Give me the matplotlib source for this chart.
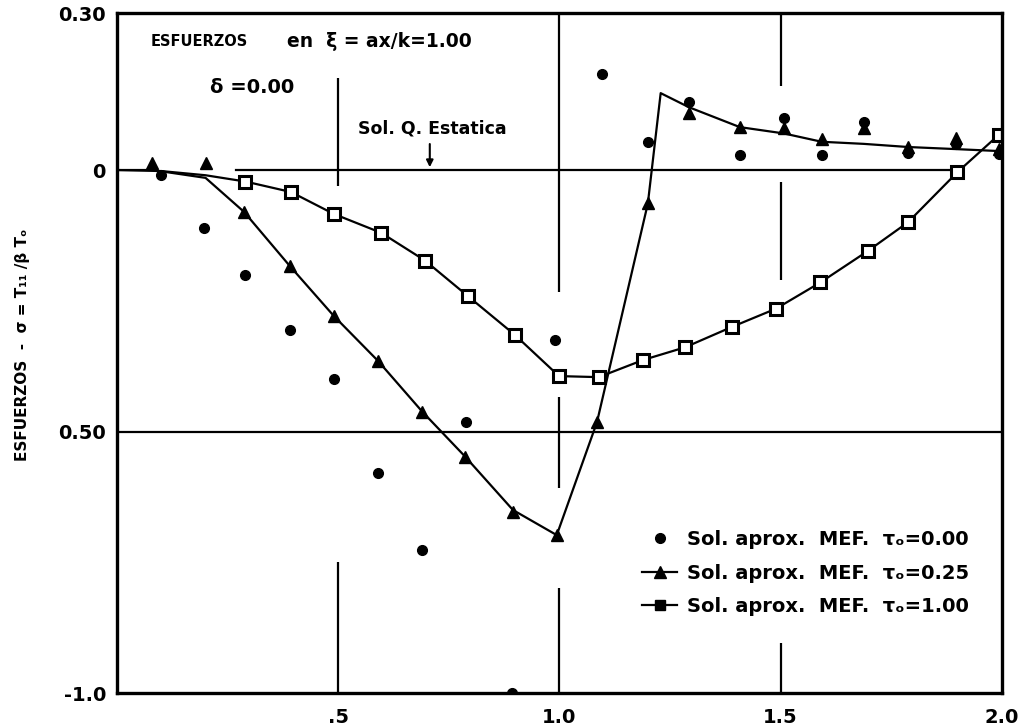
import matplotlib
matplotlib.use("Agg")
import matplotlib.pyplot as plt
from matplotlib.lines import Line2D

plt.rcParams['font.family'] = ['DejaVu Sans']
plt.rcParams['font.weight'] = 'bold'

# tau_o = 0.00 (points only)
x_t000 = [0.10, 0.197, 0.29, 0.39, 0.49, 0.59, 0.69, 0.789, 0.893, 0.99,
          1.096, 1.20, 1.293, 1.408, 1.507, 1.593, 1.688, 1.788, 1.896, 1.993]
y_t000 = [-0.01, -0.11, -0.20, -0.305, -0.40, -0.58, -0.726, -0.482, -1.0, -0.325,
          0.184, 0.054, 0.13, 0.029, 0.099, 0.029, 0.092, 0.032, 0.05, 0.03]

# tau_o = 0.25
x_t025 = [0.08, 0.20, 0.287, 0.39, 0.49, 0.59, 0.69, 0.787, 0.895, 0.994,
          1.085, 1.20, 1.293, 1.408, 1.507, 1.593, 1.688, 1.788, 1.896, 1.993]
y_t025 = [0.013, 0.013, -0.08, -0.183, -0.279, -0.365, -0.462, -0.548, -0.654, -0.698,
          -0.482, -0.064, 0.109, 0.082, 0.080, 0.059, 0.080, 0.044, 0.061, 0.040]
line_x_t025 = [0.0, 0.08, 0.2, 0.287, 0.39, 0.49, 0.59, 0.69, 0.787, 0.895, 0.994,
               1.085, 1.2, 1.229, 1.293, 1.408, 1.507, 1.593, 1.688, 1.788, 1.896, 2.0]
line_y_t025 = [0.0, 0.0, -0.015, -0.08, -0.183, -0.279, -0.365, -0.462, -0.548, -0.65, -0.698,
               -0.482, -0.064, 0.147, 0.12, 0.082, 0.07, 0.054, 0.05, 0.044, 0.04, 0.036]

# tau_o = 1.00
x_t100 = [0.29, 0.393, 0.49, 0.597, 0.696, 0.793, 0.899, 0.999, 1.089, 1.19,
          1.284, 1.39, 1.49, 1.59, 1.697, 1.788, 1.90, 1.993]
y_t100 = [-0.022, -0.042, -0.084, -0.12, -0.173, -0.241, -0.315, -0.394, -0.396, -0.363,
          -0.339, -0.30, -0.265, -0.215, -0.155, -0.10, -0.004, 0.067]
line_x_t100 = [0.0, 0.1, 0.2] + x_t100
line_y_t100 = [0.0, -0.002, -0.01] + y_t100

x_ticks = [0.5, 1.0, 1.5, 2.0]
x_ticklabels = ['.5', '1.0', '1.5', '2.0']
y_ticks = [0.30, 0.0, -0.5, -1.0]
y_ticklabels = ['0.30', '0', '0.50', '-1.0']

fig = plt.figure(figsize=(10.18, 7.28), dpi=100)
ax = fig.add_axes([0.115, 0.048, 0.869, 0.934])
ax.set_xlim(0, 2.0)
ax.set_ylim(-1.0, 0.30)

# broken grid lines like the original drawing
ax.plot([0.27, 1.88], [0, 0], color='black', lw=1.6)
ax.axhline(-0.5, color='black', lw=1.6)
ax.vlines(0.5, -0.03, 0.176, color='black', lw=1.6)
ax.vlines(0.5, -1.0, -0.75, color='black', lw=1.6)
ax.vlines(1.0, -0.233, 0.30, color='black', lw=1.6)
ax.vlines(1.0, -0.608, -0.434, color='black', lw=1.6)
ax.vlines(1.0, -1.0, -0.80, color='black', lw=1.6)
ax.vlines(1.5, 0.160, 0.30, color='black', lw=1.6)
ax.vlines(1.5, -0.211, -0.023, color='black', lw=1.6)
ax.vlines(1.5, -1.0, -0.905, color='black', lw=1.6)

ax.plot(line_x_t025, line_y_t025, color='black', lw=1.6)
ax.plot(line_x_t100, line_y_t100, color='black', lw=1.6)
ax.plot(x_t000, y_t000, 'o', color='black', ms=7, clip_on=True)
ax.plot(x_t025, y_t025, '^', color='black', ms=8)
ax.plot(x_t100, y_t100, 's', mfc='white', mec='black', mew=2.2, ms=8)

for s in ax.spines.values():
    s.set_linewidth(2.4)

ax.set_xticks(x_ticks)
ax.set_xticklabels(x_ticklabels, fontsize=14, fontweight='bold')
ax.set_yticks(y_ticks)
ax.set_yticklabels(y_ticklabels, fontsize=14, fontweight='bold')
ax.tick_params(length=0, pad=8)
ax.tick_params(axis='x', pad=11)

ax.text(0.075, 0.245, 'ESFUERZOS', fontsize=10.5, fontweight='bold', va='center')
ax.text(0.385, 0.245, 'en  ξ = ax/k=1.00', fontsize=13.5, fontweight='bold', va='center')
ax.text(0.21, 0.157, 'δ =0.00', fontsize=14, va='center')
ax.text(0.545, 0.08, 'Sol. Q. Estatica', fontsize=12.5, va='center')
ax.annotate('', xy=(0.707, 0.0), xytext=(0.707, 0.055),
            arrowprops=dict(arrowstyle='-|>', color='black', lw=1.5))

fig.text(0.022, 0.526, 'ESFUERZOS  -  σ = T₁₁ /β Tₒ', rotation=90, fontsize=11,
         fontweight='bold', ha='center', va='center')

handles = [
    Line2D([], [], ls='none', marker='o', color='black', ms=7),
    Line2D([], [], color='black', lw=1.6, marker='^', ms=8),
    Line2D([], [], color='black', lw=1.6, marker='s', ms=7),
]
labels = ['Sol. aprox.  MEF.  τₒ=0.00', 'Sol. aprox.  MEF.  τₒ=0.25', 'Sol. aprox.  MEF.  τₒ=1.00']
fig.legend(handles, labels, loc='upper left', bbox_to_anchor=(642 / 1018, 1 - 530 / 728),
           frameon=False, handlelength=1.8, handletextpad=0.5, labelspacing=0.75,
           borderpad=0, borderaxespad=0, prop={'weight': 'bold', 'size': 14})

fig.savefig('out.png', dpi=100)
